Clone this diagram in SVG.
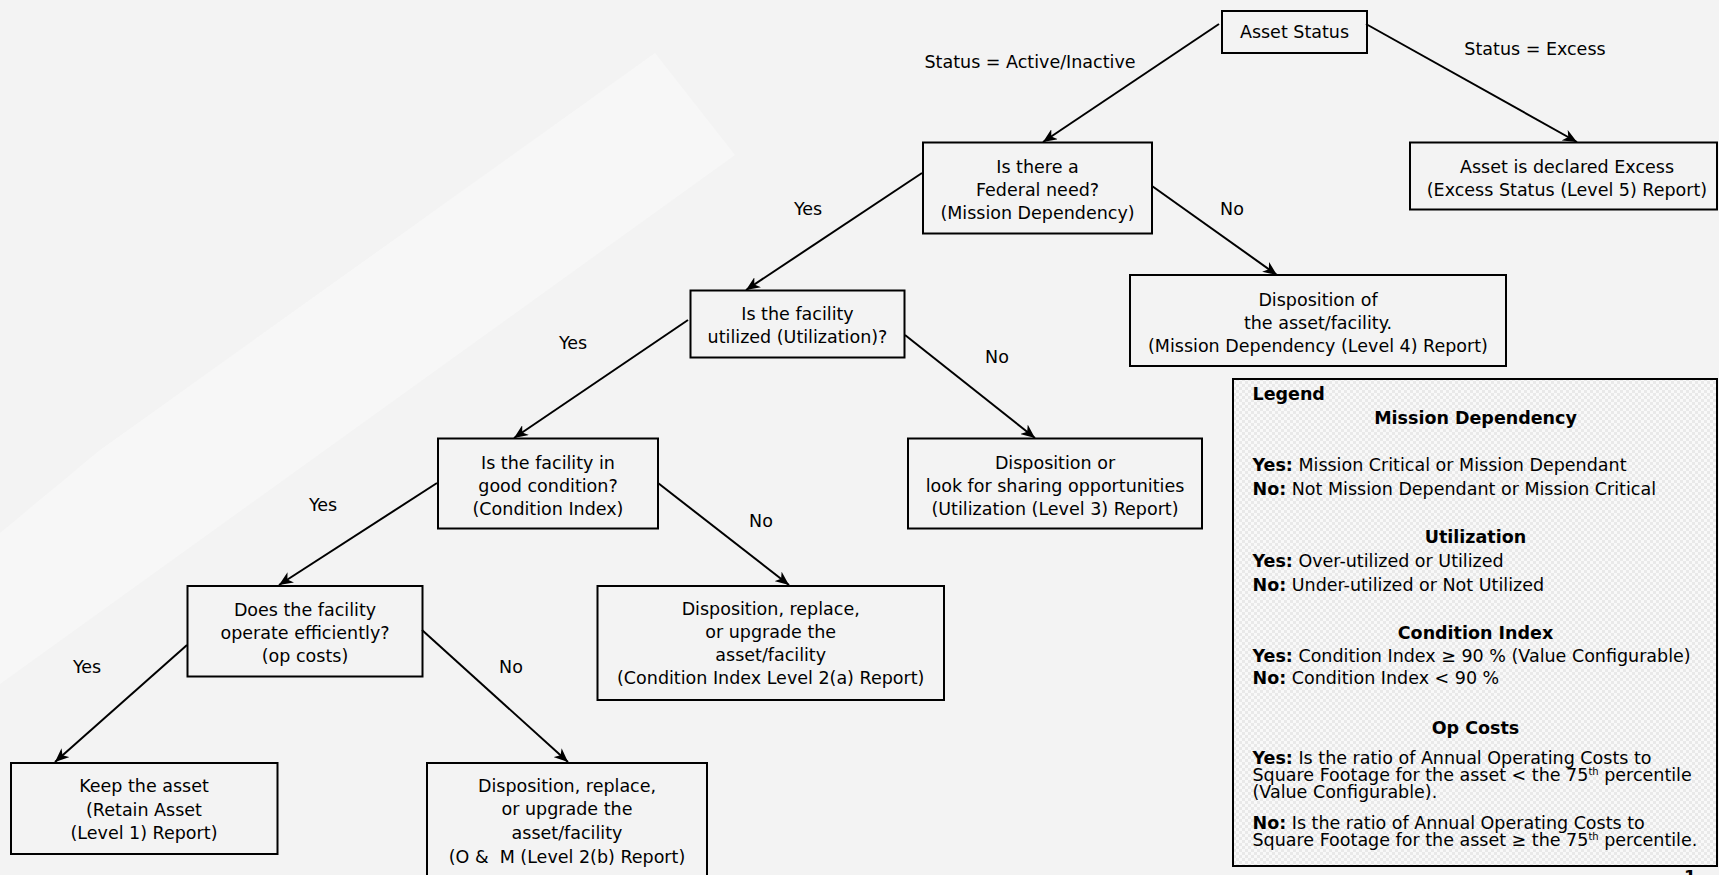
<svg xmlns="http://www.w3.org/2000/svg" width="1719" height="875" viewBox="0 0 1719 875">
<defs>
<style>
text{font-family:"DejaVu Sans","Liberation Sans",sans-serif;font-size:17.5px;fill:#000}
.c{text-anchor:middle}
.b{font-weight:bold}
.box{fill:none;stroke:#000;stroke-width:2}
.edge{fill:none;stroke:#000;stroke-width:2;marker-end:url(#arr)}
</style>
<marker id="arr" markerWidth="15" markerHeight="12" refX="14" refY="6" orient="auto" markerUnits="userSpaceOnUse">
<path d="M0,0 L14,6 L0,12 L4,6 z" fill="#000"/>
</marker>
<pattern id="chk" width="6" height="6" patternUnits="userSpaceOnUse">
<rect width="6" height="6" fill="#f9f9f9"/>
<rect width="3" height="3" fill="#e9e9e9"/>
<rect x="3" y="3" width="3" height="3" fill="#e9e9e9"/>
</pattern>
</defs>
<rect width="1719" height="875" fill="#f3f3f3"/>
<polygon points="655,53 100,450 0,533 0,684 735,155" fill="#f7f7f7"/>

<g id="connectors">
<line class="edge" x1="1219" y1="24" x2="1043" y2="142"/>
<line class="edge" x1="1366" y1="24" x2="1577" y2="142"/>
<line class="edge" x1="922" y1="173" x2="746" y2="290"/>
<line class="edge" x1="1152" y1="186" x2="1277" y2="275"/>
<line class="edge" x1="688" y1="320" x2="514" y2="438"/>
<line class="edge" x1="905" y1="335" x2="1035" y2="438"/>
<line class="edge" x1="437" y1="483" x2="279" y2="585"/>
<line class="edge" x1="658" y1="483" x2="789" y2="585"/>
<line class="edge" x1="187" y1="645" x2="55" y2="762"/>
<line class="edge" x1="422" y1="630" x2="568" y2="762"/>
<text class="c" x="1030" y="68">Status = Active/Inactive</text>
<text class="c" x="1535" y="55">Status = Excess</text>
<text class="c" x="808" y="215">Yes</text>
<text class="c" x="1232" y="215">No</text>
<text class="c" x="573" y="349">Yes</text>
<text class="c" x="997" y="363">No</text>
<text class="c" x="323" y="511">Yes</text>
<text class="c" x="761" y="527">No</text>
<text class="c" x="87" y="673">Yes</text>
<text class="c" x="511" y="673">No</text>
</g>

<g id="asset-status">
<rect class="box" x="1222" y="11" width="145" height="42"/>
<text class="c" x="1294.5" y="38">Asset Status</text>
</g>

<g id="federal-need">
<rect class="box" x="923" y="142.5" width="229" height="91"/>
<text class="c" x="1037.5" y="173">Is there a</text>
<text class="c" x="1037.5" y="196">Federal need?</text>
<text class="c" x="1037.5" y="219">(Mission Dependency)</text>
</g>

<g id="excess">
<rect class="box" x="1410" y="142.5" width="307" height="67"/>
<text class="c" x="1567" y="173">Asset is declared Excess</text>
<text class="c" x="1567" y="196">(Excess Status (Level 5) Report)</text>
</g>

<g id="utilized">
<rect class="box" x="690.5" y="290.5" width="214" height="67"/>
<text class="c" x="797.5" y="320">Is the facility</text>
<text class="c" x="797.5" y="343">utilized (Utilization)?</text>
</g>

<g id="mission-disposition">
<rect class="box" x="1130" y="275" width="376" height="91"/>
<text class="c" x="1318" y="305.5">Disposition of</text>
<text class="c" x="1318" y="328.5">the asset/facility.</text>
<text class="c" x="1318" y="351.5">(Mission Dependency (Level 4) Report)</text>
</g>

<g id="condition">
<rect class="box" x="438" y="438.5" width="220" height="90"/>
<text class="c" x="548" y="468.5">Is the facility in</text>
<text class="c" x="548" y="491.5">good condition?</text>
<text class="c" x="548" y="514.5">(Condition Index)</text>
</g>

<g id="utilization-disposition">
<rect class="box" x="908" y="438.5" width="294" height="90"/>
<text class="c" x="1055" y="468.5">Disposition or</text>
<text class="c" x="1055" y="491.5">look for sharing opportunities</text>
<text class="c" x="1055" y="514.5">(Utilization (Level 3) Report)</text>
</g>

<g id="efficiency">
<rect class="box" x="187.5" y="586" width="235" height="90.5"/>
<text class="c" x="305" y="616">Does the facility</text>
<text class="c" x="305" y="639">operate efficiently?</text>
<text class="c" x="305" y="662">(op costs)</text>
</g>

<g id="condition-disposition">
<rect class="box" x="597.5" y="586" width="346.5" height="114"/>
<text class="c" x="770.7" y="615">Disposition, replace,</text>
<text class="c" x="770.7" y="638">or upgrade the</text>
<text class="c" x="770.7" y="661">asset/facility</text>
<text class="c" x="770.7" y="684">(Condition Index Level 2(a) Report)</text>
</g>

<g id="retain">
<rect class="box" x="11" y="763" width="266.5" height="91"/>
<text class="c" x="144" y="792">Keep the asset</text>
<text class="c" x="144" y="815.5">(Retain Asset</text>
<text class="c" x="144" y="839">(Level 1) Report)</text>
</g>

<g id="om-disposition">
<rect class="box" x="427" y="763" width="280" height="130"/>
<text class="c" x="567" y="792">Disposition, replace,</text>
<text class="c" x="567" y="815">or upgrade the</text>
<text class="c" x="567" y="839">asset/facility</text>
<text class="c" x="567" y="862.5" xml:space="preserve">(O &amp;  M (Level 2(b) Report)</text>
</g>

<g id="legend">
<rect x="1233" y="379" width="484" height="487" fill="url(#chk)" stroke="#000" stroke-width="2"/>
<text class="b" x="1252.5" y="399.5">Legend</text>
<text class="b c" x="1475.5" y="423.5">Mission Dependency</text>
<text x="1252.5" y="471"><tspan class="b">Yes:</tspan> Mission Critical or Mission Dependant</text>
<text x="1252.5" y="495"><tspan class="b">No:</tspan> Not Mission Dependant or Mission Critical</text>
<text class="b c" x="1475.5" y="543">Utilization</text>
<text x="1252.5" y="567"><tspan class="b">Yes:</tspan> Over-utilized or Utilized</text>
<text x="1252.5" y="591"><tspan class="b">No:</tspan> Under-utilized or Not Utilized</text>
<text class="b c" x="1475.5" y="638.5">Condition Index</text>
<text x="1252.5" y="662"><tspan class="b">Yes:</tspan> Condition Index ≥ 90 % (Value Configurable)</text>
<text x="1252.5" y="684"><tspan class="b">No:</tspan> Condition Index &lt; 90 %</text>
<text class="b c" x="1475.5" y="733.5">Op Costs</text>
<text x="1252.5" y="763.5"><tspan class="b">Yes:</tspan> Is the ratio of Annual Operating Costs to</text>
<text x="1252.5" y="781">Square Footage for the asset &lt; the 75<tspan font-size="10" dy="-6">th</tspan><tspan dy="6"> percentile</tspan></text>
<text x="1252.5" y="798">(Value Configurable).</text>
<text x="1252.5" y="829"><tspan class="b">No:</tspan> Is the ratio of Annual Operating Costs to</text>
<text x="1252.5" y="846">Square Footage for the asset ≥ the 75<tspan font-size="10" dy="-6">th</tspan><tspan dy="6"> percentile.</tspan></text>
</g>
<text class="b" x="1684" y="883">1</text>
</svg>
